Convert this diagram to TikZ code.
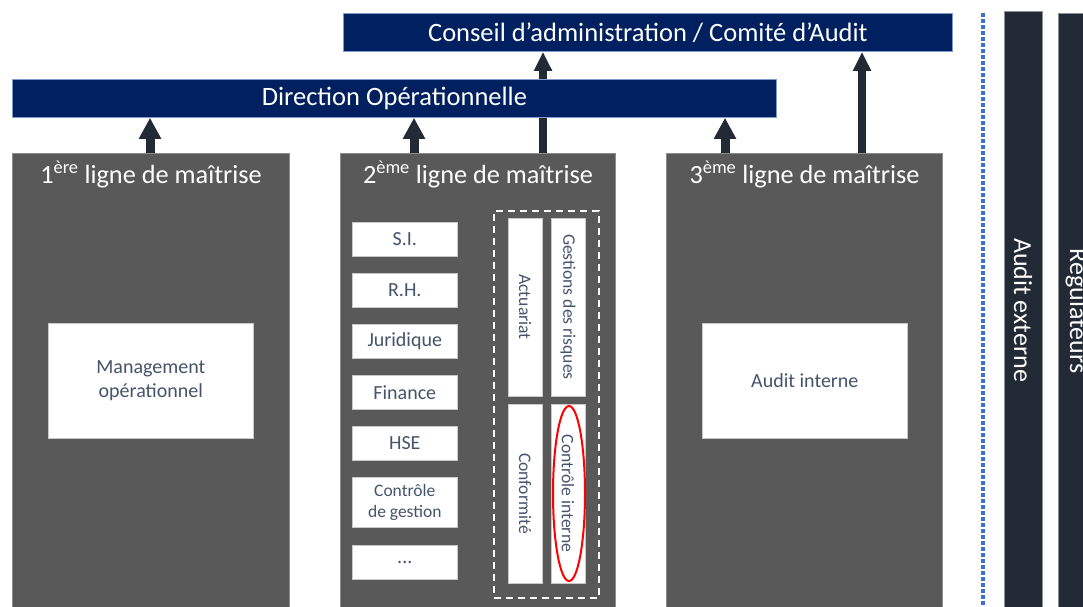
\documentclass[tikz,border=0pt]{standalone}
\usepackage{fontspec}
\setmainfont{Carlito}
\usetikzlibrary{arrows.meta,shapes.geometric}
\definecolor{navy}{HTML}{002060}
\definecolor{bannerline}{HTML}{7F9BD0}
\definecolor{boxgray}{HTML}{595959}
\definecolor{boxline}{HTML}{8C8C8C}
\definecolor{wline}{HTML}{C8C8C8}
\definecolor{txt}{HTML}{44546A}
\definecolor{arrowc}{HTML}{222A35}
\definecolor{darkbar}{HTML}{222A35}
\definecolor{barline}{HTML}{8A8F99}
\definecolor{dotblue}{HTML}{3F6FD0}
\pgfdeclarelayer{bg}
\pgfsetlayers{bg,main}
\begin{document}
\begin{tikzpicture}[x=1pt,y=-1pt,
  banner/.style={fill=navy, draw=bannerline, line width=0.8pt, text=white, font=\fontsize{26.5}{31}\selectfont, inner sep=0pt, anchor=north west},
  graybox/.style={fill=boxgray, draw=boxline, line width=1pt, anchor=north west, inner sep=0pt},
  head/.style={text=white, font=\fontsize{26.3}{31}\selectfont, anchor=base, inner sep=0pt},
  wbox/.style={fill=white, draw=wline, line width=0.6pt, text=txt, font=\fontsize{20}{22}\selectfont, anchor=north west, inner sep=0pt, align=center},
  smallbox/.style={wbox, font=\fontsize{17.5}{21}\selectfont},
  bigbox/.style={wbox, font=\fontsize{20}{24}\selectfont},
  vbox/.style={fill=white, draw=wline, line width=0.6pt, text=txt, font=\fontsize{17.6}{22}\selectfont, rotate=-90, inner sep=0pt},
  bar/.style={fill=darkbar, draw=barline, line width=0.6pt, anchor=north west, inner sep=0pt},
  bartext/.style={text=white, font=\fontsize{26}{31}\selectfont, rotate=-90, inner sep=0pt},
  sarr/.style={draw=arrowc, line width=9pt, -{Triangle[width=21pt,length=21pt]}},
  larr/.style={draw=arrowc, line width=7.5pt, -{Triangle[width=17pt,length=19pt]}},
  dotline/.style={draw=dotblue, line width=3.8pt, dash pattern=on 3.5pt off 2.5pt},
  dashbox/.style={draw=white, line width=1.8pt, dash pattern=on 7pt off 5pt, anchor=north west, inner sep=0pt},
  redell/.style={draw=red, line width=2pt, ellipse, inner sep=0pt}
]
\useasboundingbox (0,0) rectangle (1083,606);
\begin{pgfonlayer}{bg}
\fill[white] (0,0) rectangle (1083,606);
\end{pgfonlayer}

% banners
\node[banner, minimum width=609pt, minimum height=38pt] (conseil) at (343,13) {Conseil d’administration / Comité d’Audit};
\node[banner, minimum width=764pt, minimum height=38pt] (dir) at (12,79) {Direction Opérationnelle};

% lines of defence
\node[graybox, minimum width=277pt, minimum height=470pt] (l1) at (12,153) {};
\node[graybox, minimum width=275pt, minimum height=470pt] (l2) at (340,153) {};
\node[graybox, minimum width=276pt, minimum height=470pt] (l3) at (666,153) {};
\node[head] (h1) at ([yshift=-30pt]l1.north) {1\textsuperscript{ère} ligne de maîtrise};
\node[head] (h2) at ([yshift=-30pt]l2.north) {2\textsuperscript{ème} ligne de maîtrise};
\node[head] (h3) at ([yshift=-30pt]l3.north) {3\textsuperscript{ème} ligne de maîtrise};

% first and third line contents
\node[bigbox, minimum width=205pt, minimum height=115pt] (mgmt) at (48,323) {Management\\opérationnel};
\node[bigbox, minimum width=205pt, minimum height=115pt] (ai) at (702,323) {Audit interne};

% second line: support functions
\node[wbox, minimum width=105pt, minimum height=34pt] (si) at (352,222) {S.I.};
\node[wbox, minimum width=105pt, minimum height=34pt] (rh) at (352,273) {R.H.};
\node[wbox, minimum width=105pt, minimum height=34pt] (jur) at (352,324) {Juridique};
\node[wbox, minimum width=105pt, minimum height=34pt] (fin) at (352,375) {Finance};
\node[wbox, minimum width=105pt, minimum height=34pt] (hse) at (352,426) {HSE};
\node[smallbox, minimum width=105pt, minimum height=50pt] (cg) at (352,477) {Contrôle\\de gestion};
\node[wbox, minimum width=105pt, minimum height=34pt] (etc) at (352,545) {...};

% second line: key functions
\node[dashbox, minimum width=105pt, minimum height=387pt] (dbox) at (493,210) {};
\node[vbox, minimum width=178pt, minimum height=34pt] (act) at (525,307) {Actuariat};
\node[vbox, minimum width=178pt, minimum height=34pt] (gdr) at (568,307) {Gestions des risques};
\node[vbox, minimum width=179pt, minimum height=34pt] (conf) at (525,493.5) {Conformité};
\node[vbox, minimum width=179pt, minimum height=34pt] (ci) at (568,493.5) {Contrôle interne};
\node[redell, minimum width=32pt, minimum height=175pt] (ell) at ([xshift=1pt]ci.center) {};

% right side
\coordinate (dtop) at (983,13);
\coordinate (dbot) at (983,606);
\draw[dotline] (dtop) -- (dbot);
\node[bar, minimum width=38pt, minimum height=600pt] (ae) at (1004,11) {};
\node[bartext] (aet) at (1023,310) {Audit externe};
\node[bar, minimum width=40pt, minimum height=600pt] (reg) at (1058,13) {};
\node[bartext] (regt) at (1077,311) {Regulateurs};

% arrows
\coordinate (x1) at (150,0);
\coordinate (x2) at (414,0);
\coordinate (x3) at (543,0);
\coordinate (x4) at (725,0);
\coordinate (x5) at (862,0);
\begin{pgfonlayer}{bg}
\draw[sarr] (x1 |- l1.north) -- (x1 |- dir.south);
\draw[sarr] (x2 |- l2.north) -- (x2 |- dir.south);
\draw[larr] (x3 |- l2.north) -- (x3 |- conseil.south);
\draw[sarr] (x4 |- l3.north) -- (x4 |- dir.south);
\draw[larr] (x5 |- l3.north) -- (x5 |- conseil.south);
\end{pgfonlayer}
\end{tikzpicture}
\end{document}
